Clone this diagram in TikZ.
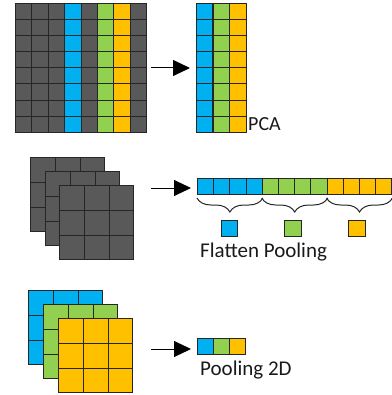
\documentclass[tikz,border=0pt]{standalone}
\usepackage{fontspec}
\setmainfont{Carlito}
\usetikzlibrary{arrows.meta,decorations.pathreplacing}
\definecolor{cblue}{HTML}{00B0F0}
\definecolor{cgreen}{HTML}{92D050}
\definecolor{cyellow}{HTML}{FFC000}
\definecolor{cgray}{HTML}{595959}
\definecolor{cline}{HTML}{262626}

\begin{document}
\begin{tikzpicture}[x=1pt,y=-1pt,
    cell/.style={draw=cline,line width=1pt,inner sep=0pt,minimum width=16.4pt,minimum height=16.1pt,anchor=north west},
    bigcell/.style={draw=cline,line width=1pt,inner sep=0pt,minimum size=24.8pt,anchor=north west},
    lbl/.style={font=\fontsize{21}{24}\selectfont,text=black!90,inner sep=0pt,anchor=base west},
    arr/.style={line width=1pt,shorten >=6pt,-{Triangle[length=17pt,width=16pt]}},
    brc/.style={draw=cline,line width=1pt,decorate,decoration={brace,mirror,amplitude=14pt}}]
  \useasboundingbox (0,0) rectangle (391,395);

  % PCA
  \foreach \r in {0,...,7} {
    \foreach[count=\k] \c in {cgray,cgray,cgray,cblue,cgray,cgreen,cyellow,cgray}
      \node[cell,fill=\c] (a-\r-\k) at ({15+(\k-1)*16.4},{3+\r*16.1}) {};
    \foreach[count=\k] \c in {cblue,cgreen,cyellow}
      \node[cell,fill=\c] (b-\r-\k) at ({196+(\k-1)*16.6},{3+\r*16.1}) {};
  }
  \node[lbl,font=\fontsize{20}{22}\selectfont] (pca) at (248,130.5) {PCA};
  \coordinate (s1) at (151,68);
  \draw[arr] (s1) -- (s1 -| b-0-1.west);

  % flatten pooling
  \foreach[count=\i] \x/\y in {30/157,45/171,59/185}
    \foreach \r in {0,1,2}
      \foreach \k in {0,1,2}
        \node[bigcell,fill=cgray] (g\i-\r-\k) at ({\x+\k*24.8},{\y+\r*24.8}) {};
  \foreach[count=\k] \c in {cblue,cblue,cblue,cblue,cgreen,cgreen,cgreen,cgreen,cyellow,cyellow,cyellow,cyellow}
    \node[cell,minimum width=16.2pt,minimum height=16pt,fill=\c] (f-\k) at ({197+(\k-1)*16.2},178) {};
  \foreach \i/\j in {1/4,5/8,9/12}
    \draw[brc] ([yshift=-3pt]f-\i.south west) -- ([yshift=-3pt]f-\j.south east);
  \foreach[count=\k] \x/\c in {220.5/cblue,284/cgreen,348/cyellow}
    \node[cell,minimum width=16.5pt,minimum height=16.5pt,fill=\c] (p-\k) at (\x,219.5) {};
  \node[lbl] (flat) at (200,257) {Flatten Pooling};
  \coordinate (s2) at (151,188);
  \draw[arr] (s2) -- (s2 -| f-1.west);

  % pooling 2d
  \foreach[count=\i] \x/\y/\c in {28/290/cblue,43/304/cgreen,58/318/cyellow}
    \foreach \r in {0,1,2}
      \foreach \k in {0,1,2}
        \node[bigcell,fill=\c] (h\i-\r-\k) at ({\x+\k*24.8},{\y+\r*24.8}) {};
  \foreach[count=\k] \c in {cblue,cgreen,cyellow}
    \node[cell,minimum width=16pt,minimum height=16pt,fill=\c] (q-\k) at ({197+(\k-1)*16},338) {};
  \node[lbl] (pool) at (200,375) {Pooling 2D};
  \coordinate (s3) at (151,349);
  \draw[arr] (s3) -- (s3 -| q-1.west);
\end{tikzpicture}
\end{document}
